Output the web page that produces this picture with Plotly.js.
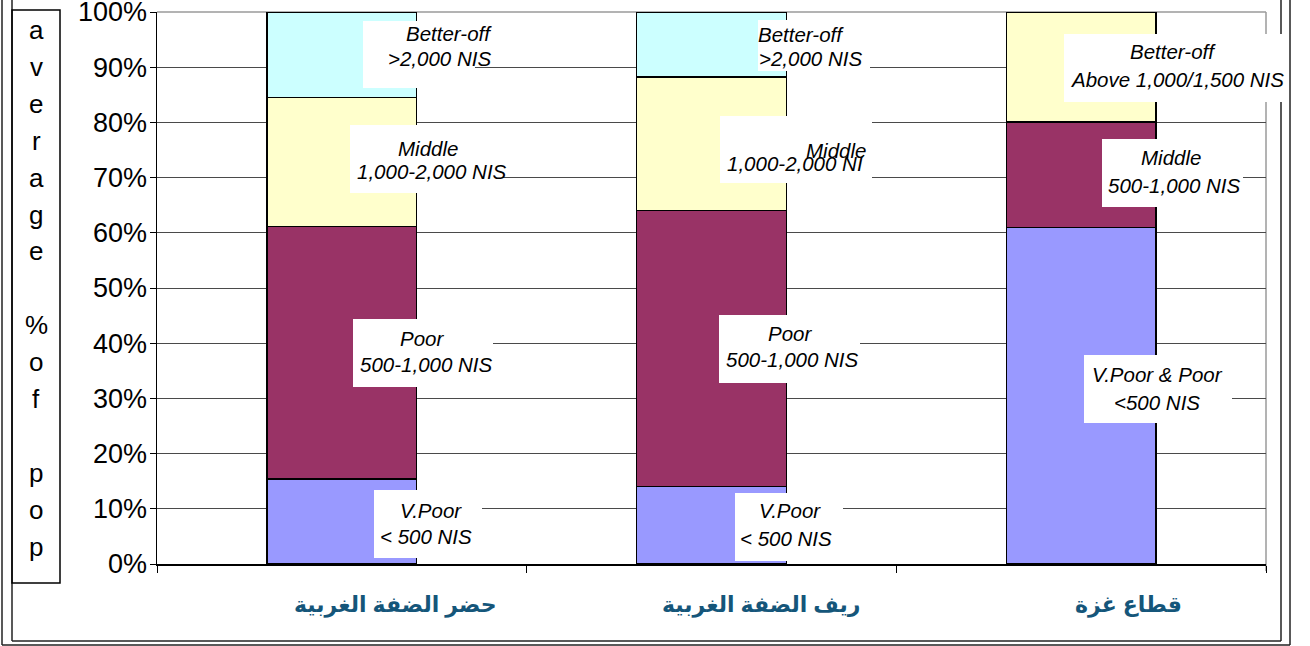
<!DOCTYPE html>
<html>
<head>
<meta charset="utf-8">
<script src="https://cdn.plot.ly/plotly-3.0.1.min.js"></script>
<style>html,body{margin:0;padding:0;background:#fff;}#chart{width:1310px;height:646px;}</style>
</head>
<body>
<div id="chart"></div>
<script>
// ---- data ----
const categories = ['حضر الضفة الغربية', 'ريف الضفة الغربية', 'قطاع غزة'];
const vPoor     = [15.4, 14.0, 61.0];
const poor      = [45.7, 50.0, 19.1];
const middle    = [23.4, 24.2, 19.9];
const betterOff = [15.5, 11.8, null];
const seriesNames = ['V.Poor', 'Poor', 'Middle', 'Better-off'];
const yTickVals = [0, 10, 20, 30, 40, 50, 60, 70, 80, 90, 100];
const yTickText = ['0%', '10%', '20%', '30%', '40%', '50%', '60%', '70%', '80%', '90%', '100%'];
const yTitleLetters = ['a','v','e','r','a','g','e','','%','o','f','','p','o','p'];
// data label texts (two lines each)
const labelTexts = [
  ['Better-off', '>2,000 NIS'], ['Middle', '1,000-2,000 NIS'], ['Poor', '500-1,000 NIS'], ['V.Poor', '< 500 NIS'],
  ['Better-off', '>2,000 NIS'], ['Middle', '1,000-2,000 NI'], ['Poor', '500-1,000 NIS'], ['V.Poor', '< 500 NIS'],
  ['Better-off', 'Above 1,000/1,500 NIS'], ['Middle', '500-1,000 NIS'], ['V.Poor & Poor', '<500 NIS']
];

// ---- layout helpers (pixel -> paper) ----
const L = 157, T = 12, W = 1109, H = 552;
const X = px => (px - L) / W;
const Y = py => (T + H - py) / H;

// label box rectangles [x0,y0,x1,y1] and line centres [[cx,cy],[cx,cy]]
const labelBoxes = [
  [363, 21, 475, 88], [350, 125, 503, 193], [353, 319, 493, 387], [374, 490, 482, 558],
  [758, 20, 870, 71], [720, 116, 872, 183], [719, 315, 860, 383], [735, 493, 843, 561],
  [1064, 34, 1287, 102], [1102, 139, 1243, 207], [1084, 355, 1232, 423]
];
const labelPos = [
  [[449, 33], [439, 57]], [[428, 147], [432, 170]], [[422, 337], [426, 364]], [[431, 509], [426, 535]],
  [[801, 34], [810, 57]], [[836, 149], [795, 162]], [[790, 332], [792, 358]], [[790, 509], [786, 537]],
  [[1173, 51], [1177, 79]], [[1171, 156], [1174, 184]], [[1157, 373], [1157, 401]]
];

const colors = ['#9999FF', '#993366', '#FFFFCC', '#CCFFFF'];
const seriesVals = [vPoor, poor, middle, betterOff];
const traces = seriesVals.map((vals, i) => ({
  type: 'bar', x: categories, y: vals, name: seriesNames[i],
  width: 0.405,
  marker: {color: colors[i], line: {color: '#000', width: 1.5}},
  hoverinfo: 'skip'
}));

const shapes = [];
const annotations = [];
const frameColor = '#222';
function line(x0, y0, x1, y1, color, width, layer) {
  shapes.push({type: 'line', xref: 'paper', yref: 'paper', x0: X(x0), y0: Y(y0), x1: X(x1), y1: Y(y1),
    line: {color: color, width: width}, layer: layer || 'above'});
}
// gray plot frame (top / right)
line(157, 12, 1266, 12, '#9a9a9a', 1.5, 'between');
line(1266, 12, 1266, 571, '#9a9a9a', 1.5, 'between');
// outer double frame
line(2, 0, 2, 645, frameColor, 1.5);
line(12, 0, 12, 641, frameColor, 1.5);
line(1281, 0, 1281, 641, frameColor, 1.5);
line(1290, 0, 1290, 645, frameColor, 1.5);
line(12, 641, 1281, 641, frameColor, 1.5);
line(2, 645, 1290, 645, frameColor, 1.5);
// y title box
shapes.push({type: 'rect', xref: 'paper', yref: 'paper', x0: X(12), x1: X(60), y0: Y(583), y1: Y(10),
  line: {color: '#000', width: 1.5}, fillcolor: 'rgba(0,0,0,0)', layer: 'above'});
// label boxes
labelBoxes.forEach(b => shapes.push({type: 'rect', xref: 'paper', yref: 'paper',
  x0: X(b[0]), x1: X(b[2]), y0: Y(b[3]), y1: Y(b[1]), line: {width: 0}, fillcolor: '#fff', layer: 'above'}));

// label texts
labelTexts.forEach((lines, k) => {
  lines.forEach((t, j) => {
    const p = labelPos[k][j];
    annotations.push({xref: 'paper', yref: 'paper', x: X(p[0]), y: Y(p[1]), text: t, showarrow: false,
      xanchor: 'center', yanchor: 'middle', yshift: -1,
      font: {family: 'Arial, Liberation Sans, sans-serif', size: 20.5, color: '#000', style: 'italic'}});
  });
});
// y title letters
yTitleLetters.forEach((ch, i) => {
  if (!ch) return;
  annotations.push({xref: 'paper', yref: 'paper', x: X(36), y: Y(32 + 36.9 * i), text: ch, showarrow: false,
    xanchor: 'center', yanchor: 'middle', yshift: 2,
    font: {family: 'Arial, Liberation Sans, sans-serif', size: 26, color: '#000'}});
});
// category labels (Arabic)
const catLabelX = [395, 761, 1128];
categories.forEach((c, i) => {
  annotations.push({xref: 'paper', yref: 'paper', x: X(catLabelX[i]), y: Y(605), text: '<b>' + c + '</b>',
    showarrow: false, xanchor: 'center', yanchor: 'middle',
    font: {family: 'Arial, DejaVu Sans, sans-serif', size: 22, color: '#15567a'}});
});

const layout = {
  width: 1310, height: 646,
  margin: {l: L, r: 1310 - L - W, t: T, b: 646 - T - H, pad: 0},
  paper_bgcolor: '#fff', plot_bgcolor: '#fff',
  barmode: 'stack', showlegend: false,
  xaxis: {type: 'category', tickson: 'boundaries', ticks: 'outside', ticklen: 7, tickcolor: '#000', tickwidth: 1,
    showticklabels: false, showgrid: false, showline: true, linecolor: '#000', linewidth: 1.5, zeroline: false,
    fixedrange: true},
  yaxis: {range: [0, 100], tickvals: yTickVals, ticktext: yTickText, ticks: 'outside', ticklen: 6,
    tickcolor: '#000', tickwidth: 1, showline: true, linecolor: '#000', linewidth: 1.5,
    showgrid: true, gridcolor: '#4a4a4a', gridwidth: 1, zeroline: false,
    ticklabeloverflow: 'allow', ticklabelstandoff: -3,
    tickfont: {family: 'Arial, Liberation Sans, sans-serif', size: 27, color: '#000'}, fixedrange: true},
  shapes: shapes,
  annotations: annotations
};

Plotly.newPlot('chart', traces, layout, {displayModeBar: false, staticPlot: true});
</script>
</body>
</html>
